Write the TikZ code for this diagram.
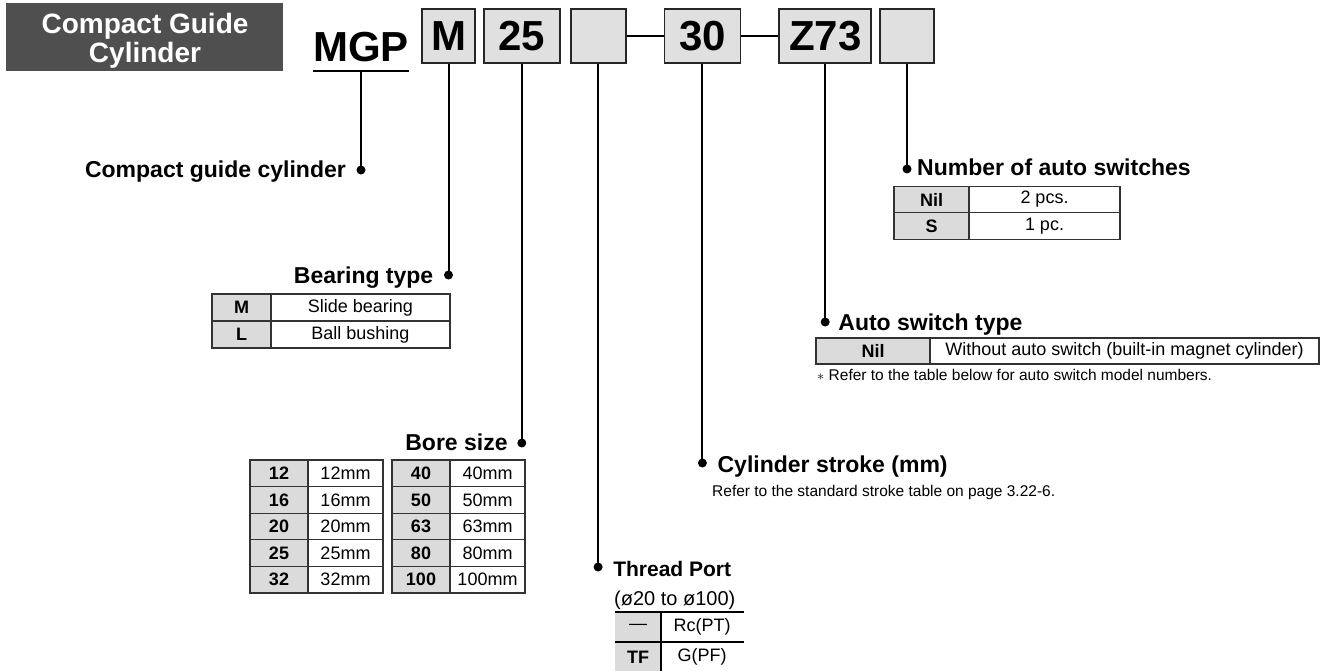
\documentclass[tikz,border=0pt]{standalone}
\usepackage{fontspec}
\setmainfont{Liberation Sans}
\usetikzlibrary{positioning, calc}

\begin{document}
\begin{tikzpicture}[x=1pt, y=-1pt,
    codebox/.style={draw=black!85, line width=1.8pt, fill=black!12, minimum height=54pt, inner sep=0pt, font=\fontsize{42}{44}\selectfont\bfseries},
    conn/.style={line width=2pt},
    heading/.style={font=\fontsize{23}{25}\selectfont\bfseries, inner sep=0pt},
    keycell/.style={draw=black!80, line width=1.2pt, fill=black!14, inner sep=0pt, font=\fontsize{18}{20}\selectfont\bfseries},
    valcell/.style={draw=black!80, line width=1.2pt, fill=white, inner sep=0pt, font=\fontsize{18}{20}\selectfont},
    note/.style={font=\fontsize{15.5}{17}\selectfont, inner sep=0pt}]
\useasboundingbox (0,0) rectangle (1327,671);

% title block
\fill[black!69] (6,3) rectangle (283,71);
\node[text=white, align=center, font=\fontsize{28}{29}\selectfont\bfseries] (title) at (145,41) {Compact Guide\\Cylinder};

% model code
\node[font=\fontsize{42}{44}\selectfont\bfseries, inner sep=0pt, anchor=base] (mgp) at (361,62) {MGP};
\node[codebox, minimum width=53pt] (bear) at (448.5,36) {M};
\node[codebox, minimum width=76pt, right=7pt of bear] (bore) {25};
\node[codebox, minimum width=55pt, right=9pt of bore] (port) {};
\node[codebox, minimum width=76pt, right=37pt of port] (stroke) {30};
\node[codebox, minimum width=92pt, right=37pt of stroke] (switch) {Z73};
\node[codebox, minimum width=54pt, right=7pt of switch] (count) {};
\draw[conn] (port) -- (stroke);
\draw[conn] (stroke) -- (switch);

% leader lines
\draw[conn] ([yshift=-9pt]mgp.base west) -- ([yshift=-9pt]mgp.base east);
\coordinate (mgpu) at ([yshift=-9pt]mgp.base);
\draw[conn] (mgpu) -- (mgpu |- 0,170) coordinate (dcyl);
\draw[conn] (bear.south) -- (bear.south |- 0,275) coordinate (dbear);
\draw[conn] (bore.south) -- (bore.south |- 0,443) coordinate (dbore);
\draw[conn] (port.south) -- (port.south |- 0,567) coordinate (dport);
\draw[conn] (stroke.south) -- (stroke.south |- 0,463) coordinate (dstroke);
\draw[conn] (switch.south) -- (switch.south |- 0,322) coordinate (dswitch);
\draw[conn] (count.south) -- (count.south |- 0,169) coordinate (dcount);
\foreach \d in {dcyl, dbear, dbore, dport, dstroke, dswitch, dcount}
    \fill (\d) circle[radius=4.5pt];

% headings
\node[heading, anchor=base east] (tcyl) at ($(dcyl)+(-15,8)$) {Compact guide cylinder};
\node[heading, anchor=base east] (tbear) at ($(dbear)+(-15,8)$) {Bearing type};
\node[heading, anchor=base east] (tbore) at ($(dbore)+(-14,7)$) {Bore size};
\node[heading, anchor=base west, font=\fontsize{21}{23}\selectfont\bfseries] (tport) at ($(dport)+(15,9)$) {Thread Port};
\node[heading, anchor=base west] (tstroke) at ($(dstroke)+(15,9)$) {Cylinder stroke (mm)};
\node[heading, anchor=base west] (tswitch) at ($(dswitch)+(13,8)$) {Auto switch type};
\node[heading, anchor=base west] (tcount) at ($(dcount)+(10,7)$) {Number of auto switches};

% bearing type
\node[keycell, minimum width=59pt, minimum height=27pt] (bk1) at (241.5,307.5) {M};
\node[valcell, minimum width=179pt, minimum height=27pt] (bv1) at (360.5,307.5) {Slide bearing};
\node[keycell, minimum width=59pt, minimum height=27pt] (bk2) at (241.5,334.5) {L};
\node[valcell, minimum width=179pt, minimum height=27pt] (bv2) at (360.5,334.5) {Ball bushing};

% bore size
\foreach \k/\v [count=\i] in {12/12mm, 16/16mm, 20/20mm, 25/25mm, 32/32mm} {
    \node[keycell, minimum width=58pt, minimum height=26.6pt] (rk\i) at (279,446.7+26.6*\i) {\k};
    \node[valcell, minimum width=75pt, minimum height=26.6pt] (rv\i) at (345.5,446.7+26.6*\i) {\v};
}
\foreach \k/\v [count=\i] in {40/40mm, 50/50mm, 63/63mm, 80/80mm, 100/100mm} {
    \node[keycell, minimum width=58pt, minimum height=26.6pt] (sk\i) at (421,446.7+26.6*\i) {\k};
    \node[valcell, minimum width=75pt, minimum height=26.6pt] (sv\i) at (487.5,446.7+26.6*\i) {\v};
}

% thread port
\node[anchor=base west, inner sep=0pt, font=\fontsize{20}{22}\selectfont] (prange) at (614,605) {(ø20 to ø100)};
\fill[black!14] (615,612) rectangle (661,671);
\draw[line width=2pt] (615,612) -- (744,612);
\draw[line width=1.2pt] (615,642) -- (744,642);
\draw[line width=1.2pt] (661,612) -- (661,671);
\node[font=\fontsize{18}{20}\selectfont] (pk1) at (638,627) {—};
\node[font=\fontsize{18}{20}\selectfont] (pv1) at (702,627) {Rc(PT)};
\node[font=\fontsize{18}{20}\selectfont\bfseries] (pk2) at (638,657) {TF};
\node[font=\fontsize{18}{20}\selectfont] (pv2) at (702,657) {G(PF)};

% cylinder stroke
\node[note, anchor=base west] (nstroke) at (712,496) {Refer to the standard stroke table on page 3.22-6.};

% auto switch type
\node[keycell, minimum width=114pt, minimum height=26pt] (wk1) at (873,351) {Nil};
\node[valcell, minimum width=389pt, minimum height=26pt] (wv1) at (1124.5,351) {Without auto switch (built-in magnet cylinder)};
\node[note, anchor=base west] (nswitch) at (817,380) {$\ast$ Refer to the table below for auto switch model numbers.};

% number of auto switches
\node[keycell, minimum width=75pt, minimum height=26.5pt] (ck1) at (931.5,199.5) {Nil};
\node[valcell, minimum width=151pt, minimum height=26.5pt] (cv1) at (1044.5,199.5) {2 pcs.};
\node[keycell, minimum width=75pt, minimum height=26.5pt] (ck2) at (931.5,226) {S};
\node[valcell, minimum width=151pt, minimum height=26.5pt] (cv2) at (1044.5,226) {1 pc.};
\end{tikzpicture}
\end{document}
